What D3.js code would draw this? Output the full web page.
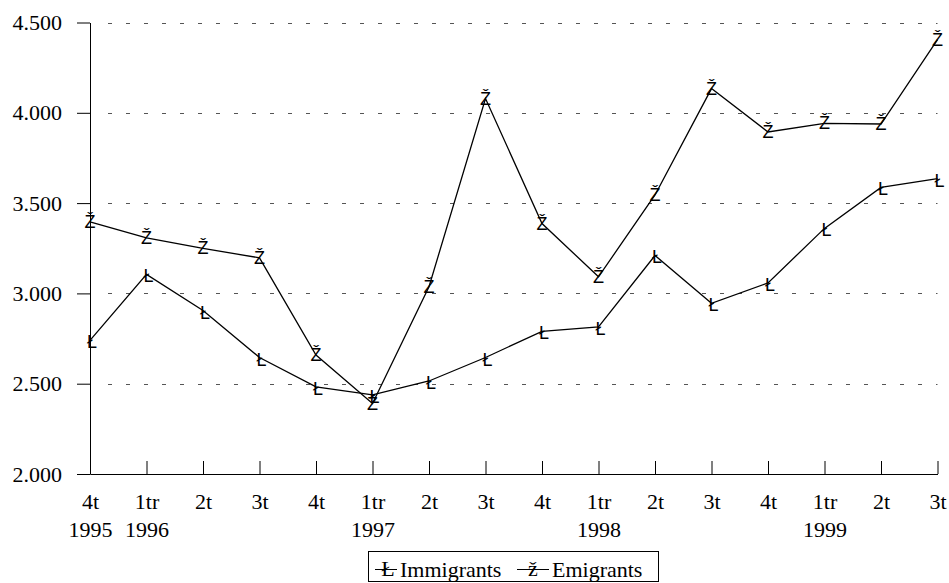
<!DOCTYPE html>
<html>
<head>
<meta charset="utf-8" />
<title>Immigrants / Emigrants</title>
<style>
  body { margin: 0; background: #fff; }
  svg { display: block; }
  .axis text { font-family: "Liberation Serif", "Times New Roman", serif; font-size: 22px; fill: #000; }
  .axis path, .axis line { stroke: #000; stroke-width: 1px; }
  .grid line { stroke: #555; stroke-dasharray: 4,14; }
  .mark { font-family: "Liberation Sans", Arial, sans-serif; font-size: 18px; fill: #000; }
  .legend text { font-family: "Liberation Serif", "Times New Roman", serif; font-size: 22px; fill: #000; }
</style>
</head>
<body>
<div id="chart"></div>
<script src="https://cdn.jsdelivr.net/npm/d3@7/dist/d3.min.js"></script>
<script>
// quarters along the x axis, year shown under the first quarter of each year
var quarters = ["4t","1tr","2t","3t","4t","1tr","2t","3t","4t","1tr","2t","3t","4t","1tr","2t","3t"];
var years    = ["1995","1996","","","","1997","","","","1998","","","","1999","",""];

var immigrants = [2740, 3105, 2905, 2645, 2483, 2438, 2515, 2645, 2790, 2815, 3210, 2945, 3058, 3360, 3587, 3636];
var emigrants  = [3396, 3308, 3249, 3197, 2659, 2390, 3037, 4079, 3387, 3092, 3545, 4134, 3894, 3941, 3938, 4405];

var yTicks = [2000, 2500, 3000, 3500, 4000, 4500];

var width = 949, height = 583;
var plotLeft = 90, plotRight = 937.5, plotTop = 22.5, plotBottom = 474;

var locale = d3.formatLocale({decimal: ",", thousands: ".", grouping: [3], currency: ["", ""]});
var fmt = locale.format(",d");

var svg = d3.select("#chart").append("svg")
    .attr("width", width)
    .attr("height", height);

var x = d3.scalePoint()
    .domain(d3.range(quarters.length))
    .range([plotLeft, plotRight]);

var y = d3.scaleLinear()
    .domain([2000, 4500])
    .range([plotBottom, plotTop]);

// dashed gridlines
svg.append("g").attr("class", "grid")
  .selectAll("line")
  .data(yTicks.filter(function (d) { return d > 2000; }))
  .join("line")
    .attr("x1", 108)
    .attr("x2", plotRight)
    .attr("y1", function (d) { return Math.round(y(d)) + 0.5; })
    .attr("y2", function (d) { return Math.round(y(d)) + 0.5; });

// y axis
svg.append("g")
    .attr("class", "axis y")
    .attr("transform", "translate(" + plotLeft + ",0)")
    .call(d3.axisLeft(y).tickValues(yTicks).tickFormat(fmt).tickSizeInner(13).tickSizeOuter(0).tickPadding(15));

// x axis, ticks pointing inward
var xg = svg.append("g")
    .attr("class", "axis x")
    .attr("transform", "translate(0," + plotBottom + ")")
    .call(d3.axisBottom(x).tickFormat(function (i) { return quarters[i]; }).tickSizeInner(-13).tickSizeOuter(0).tickPadding(19));

xg.selectAll(".tick").append("text")
    .attr("fill", "#000")
    .attr("y", 47)
    .attr("dy", "0.71em")
    .text(function (i) { return years[i]; });

// series
var line = d3.line()
    .x(function (d, i) { return x(i); })
    .y(function (d) { return y(d); });

var series = [
  {name: "Immigrants", values: immigrants, glyph: "Ł", legendGlyph: "Ł", dx: 2, dy: 8},
  {name: "Emigrants",  values: emigrants,  glyph: "Ž", legendGlyph: "ž", dx: 0, dy: 6}
];

series.forEach(function (s) {
  svg.append("path")
      .datum(s.values)
      .attr("fill", "none")
      .attr("stroke", "#000")
      .attr("stroke-width", 1.3)
      .attr("d", line);

  svg.append("g")
    .selectAll("text")
    .data(s.values)
    .join("text")
      .attr("class", "mark")
      .attr("text-anchor", "middle")
      .attr("x", function (d, i) { return x(i) + s.dx; })
      .attr("y", function (d) { return y(d) + s.dy; })
      .text(s.glyph);
});

// legend
var legend = svg.append("g").attr("class", "legend");
legend.append("rect")
    .attr("x", 368.5)
    .attr("y", 551.5)
    .attr("width", 290)
    .attr("height", 30)
    .attr("fill", "none")
    .attr("stroke", "#000");

var legendItems = [
  {s: series[0], lx: 375, lw: 22, tx: 400},
  {s: series[1], lx: 517, lw: 32, tx: 552}
];
legendItems.forEach(function (it) {
  legend.append("line")
      .attr("x1", it.lx).attr("x2", it.lx + it.lw)
      .attr("y1", 569.5).attr("y2", 569.5)
      .attr("stroke", "#000");
  legend.append("text")
      .attr("class", "mark")
      .attr("text-anchor", "middle")
      .attr("x", it.lx + it.lw / 2 + it.s.dx)
      .attr("y", 576)
      .text(it.s.legendGlyph);
  legend.append("text")
      .attr("x", it.tx)
      .attr("y", 577)
      .text(it.s.name);
});
</script>
</body>
</html>
